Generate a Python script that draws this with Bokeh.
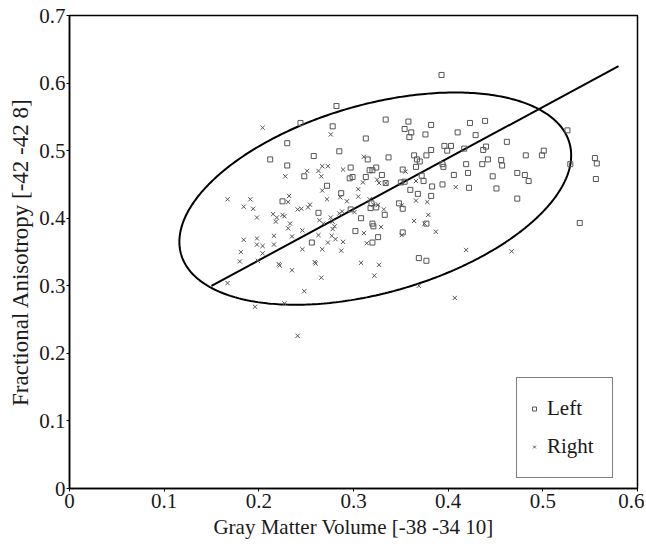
import numpy as np
from bokeh.plotting import figure
from bokeh.models import FixedTicker
from bokeh.embed import file_html
from bokeh.resources import INLINE

# ---- data ----
left_x = [0.282, 0.244, 0.278, 0.334, 0.230, 0.313, 0.212, 0.258, 0.285, 0.230,
          0.315, 0.337, 0.297, 0.317, 0.320, 0.324, 0.248, 0.296, 0.299, 0.313,
          0.330, 0.334, 0.272, 0.287, 0.225, 0.263, 0.297, 0.308, 0.318, 0.319,
          0.324, 0.333, 0.320, 0.321, 0.302, 0.326, 0.320, 0.256, 0.348, 0.352,
          0.358, 0.354, 0.361, 0.359, 0.364, 0.352, 0.366, 0.350, 0.354, 0.360,
          0.352, 0.393, 0.423, 0.439, 0.382, 0.376, 0.410, 0.429, 0.526, 0.462,
          0.396, 0.403, 0.382, 0.399, 0.417, 0.437, 0.440, 0.367, 0.370, 0.377,
          0.501, 0.499, 0.482, 0.442, 0.456, 0.457, 0.529, 0.555, 0.557, 0.394,
          0.395, 0.419, 0.436, 0.473, 0.481, 0.485, 0.406, 0.421, 0.447, 0.556,
          0.374, 0.372, 0.383, 0.394, 0.422, 0.451, 0.473, 0.368, 0.382, 0.377,
          0.369, 0.377, 0.539]
left_y = [0.566, 0.541, 0.536, 0.546, 0.511, 0.518, 0.487, 0.492, 0.499, 0.478,
          0.487, 0.490, 0.475, 0.471, 0.471, 0.475, 0.462, 0.459, 0.461, 0.461,
          0.464, 0.452, 0.448, 0.437, 0.425, 0.408, 0.413, 0.400, 0.415, 0.422,
          0.416, 0.405, 0.392, 0.388, 0.381, 0.372, 0.364, 0.364, 0.422, 0.414,
          0.543, 0.532, 0.527, 0.520, 0.493, 0.472, 0.476, 0.453, 0.454, 0.442,
          0.379, 0.612, 0.541, 0.544, 0.538, 0.524, 0.527, 0.523, 0.530, 0.513,
          0.507, 0.507, 0.501, 0.500, 0.503, 0.501, 0.506, 0.487, 0.484, 0.493,
          0.500, 0.493, 0.493, 0.487, 0.486, 0.478, 0.480, 0.489, 0.481, 0.480,
          0.476, 0.480, 0.480, 0.467, 0.464, 0.455, 0.464, 0.467, 0.462, 0.458,
          0.455, 0.463, 0.447, 0.450, 0.445, 0.444, 0.429, 0.436, 0.433, 0.392,
          0.341, 0.337, 0.393]

right_x = [0.204, 0.276, 0.311, 0.267, 0.273, 0.251, 0.289, 0.263, 0.228, 0.266,
           0.310, 0.325, 0.327, 0.267, 0.305, 0.232, 0.231, 0.272, 0.305, 0.293,
           0.167, 0.191, 0.184, 0.194, 0.241, 0.245, 0.252, 0.254, 0.198, 0.215,
           0.219, 0.225, 0.227, 0.218, 0.233, 0.231, 0.246, 0.264, 0.268, 0.276,
           0.278, 0.285, 0.288, 0.280, 0.278, 0.311, 0.329, 0.317, 0.321, 0.326,
           0.332, 0.184, 0.198, 0.198, 0.204, 0.216, 0.216, 0.235, 0.263, 0.277,
           0.281, 0.289, 0.314, 0.181, 0.180, 0.204, 0.199, 0.246, 0.267, 0.287,
           0.221, 0.222, 0.235, 0.259, 0.260, 0.308, 0.327, 0.266, 0.322, 0.167,
           0.196, 0.227, 0.248, 0.241, 0.369, 0.286, 0.301, 0.364, 0.355, 0.334,
           0.366, 0.408, 0.366, 0.378, 0.379, 0.375, 0.387, 0.419, 0.467, 0.407,
           0.351, 0.351, 0.273]
right_y = [0.534, 0.524, 0.491, 0.477, 0.477, 0.470, 0.472, 0.470, 0.462, 0.462,
           0.453, 0.457, 0.452, 0.441, 0.443, 0.433, 0.424, 0.428, 0.432, 0.425,
           0.428, 0.428, 0.417, 0.414, 0.413, 0.414, 0.416, 0.420, 0.401, 0.406,
           0.401, 0.405, 0.403, 0.395, 0.392, 0.385, 0.382, 0.397, 0.392, 0.401,
           0.395, 0.407, 0.410, 0.388, 0.384, 0.378, 0.387, 0.428, 0.420, 0.420,
           0.413, 0.368, 0.370, 0.361, 0.359, 0.374, 0.361, 0.373, 0.375, 0.374,
           0.369, 0.365, 0.363, 0.350, 0.336, 0.348, 0.337, 0.354, 0.354, 0.352,
           0.332, 0.330, 0.323, 0.335, 0.333, 0.334, 0.331, 0.312, 0.315, 0.304,
           0.269, 0.274, 0.292, 0.226, 0.300, 0.431, 0.409, 0.396, 0.469, 0.452,
           0.455, 0.446, 0.426, 0.424, 0.405, 0.392, 0.380, 0.353, 0.351, 0.282,
           0.375, 0.419, 0.364]

x_ticks = [0, 0.1, 0.2, 0.3, 0.4, 0.5, 0.6]
x_tick_labels = ["0", "0.1", "0.2", "0.3", "0.4", "0.5", "0.6"]
y_ticks = [0, 0.1, 0.2, 0.3, 0.4, 0.5, 0.6, 0.7]
y_tick_labels = ["0", "0.1", "0.2", "0.3", "0.4", "0.5", "0.6", "0.7"]

# regression line
reg_x = [0.15, 0.58]
reg_slope = 0.756
reg_intercept = 0.1866

# ellipse (center in data units, axes in screen px, angle in screen space)
ell_cx, ell_cy = 0.323, 0.429
ell_a_px, ell_b_px = 202, 94
ell_angle_deg = 16

# ---- layout ----
W, H = 644, 544
BL, BR, BT, BB = 69, 7, 15, 56
X0, X1 = 0, 0.6
Y0, Y1 = 0, 0.7
FONT = "Liberation Serif"
TXT = "#1a1a1a"
MK = "#555555"

p = figure(width=W, height=H, x_range=(X0, X1), y_range=(Y0, Y1),
           output_backend="svg", toolbar_location=None,
           min_border_left=BL, min_border_right=BR,
           min_border_top=BT, min_border_bottom=BB)
p.grid.visible = False
p.outline_line_color = "black"
p.outline_line_width = 1.5
p.background_fill_color = "white"
p.border_fill_color = "white"

for ax, ticks, labels in ((p.xaxis[0], x_ticks, x_tick_labels),
                          (p.yaxis[0], y_ticks, y_tick_labels)):
    ax.ticker = FixedTicker(ticks=ticks, minor_ticks=[])
    ax.major_label_overrides = {t: l for t, l in zip(ticks, labels)}
    ax.major_label_text_font = FONT
    ax.major_label_text_font_size = "21px"
    ax.major_label_text_color = TXT
    ax.axis_label_text_font = FONT
    ax.axis_label_text_font_style = "normal"
    ax.axis_label_text_color = TXT
    ax.axis_line_color = "black"
    ax.axis_line_width = 1.5
    ax.major_tick_line_color = "black"
    ax.major_tick_in = 0
    ax.major_tick_out = 3
    ax.minor_tick_line_color = None

p.xaxis.axis_label = "Gray Matter Volume [-38 -34 10]"
p.yaxis.axis_label = "Fractional Anisotropy [-42 -42 8]"
p.xaxis.axis_label_text_font_size = "21px"
p.yaxis.axis_label_text_font_size = "23px"
p.xaxis.major_label_standoff = 2
p.yaxis.major_label_standoff = 1
p.xaxis.axis_label_standoff = 4
p.yaxis.axis_label_standoff = 3

# ellipse drawn as a line, screen-consistent
sx = (W - BL - BR) / (X1 - X0)
sy = (H - BT - BB) / (Y1 - Y0)
t = np.linspace(0, 2 * np.pi, 400)
th = np.deg2rad(ell_angle_deg)
U = ell_a_px * np.cos(t) * np.cos(th) - ell_b_px * np.sin(t) * np.sin(th)
V = ell_a_px * np.cos(t) * np.sin(th) + ell_b_px * np.sin(t) * np.cos(th)
p.line(ell_cx + U / sx, ell_cy + V / sy, line_color="black", line_width=2)

reg_y = [reg_intercept + reg_slope * x for x in reg_x]
p.line(reg_x, reg_y, line_color="black", line_width=2)

p.scatter(left_x, left_y, marker="square", size=5, fill_color=None,
          line_color=MK, line_width=1, legend_label="Left")
p.scatter(right_x, right_y, marker="x", size=6, line_color=MK,
          line_width=1, legend_label="Right")

lg = p.legend[0]
lg.location = (447, 10)
lg.margin = 0
lg.padding = 12
lg.spacing = 1
lg.glyph_width = 10
lg.glyph_height = 37
lg.label_height = 37
lg.label_width = 53
lg.label_standoff = 8
lg.label_text_font = FONT
lg.label_text_font_size = "21px"
lg.label_text_color = TXT
lg.border_line_color = "black"
lg.border_line_width = 1.5
lg.background_fill_alpha = 1.0

open("out.html", "w").write(file_html(p, INLINE))
